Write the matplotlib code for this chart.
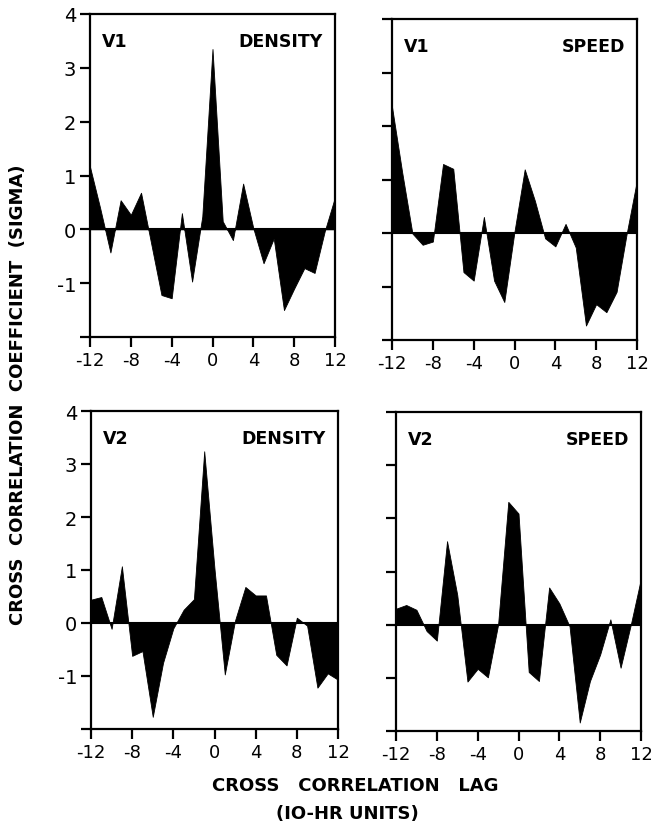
import matplotlib
matplotlib.use("Agg")
import matplotlib.pyplot as plt

plt.rcParams['font.family'] = ['DejaVu Sans']
plt.rcParams['axes.unicode_minus'] = False

lags = list(range(-12, 13))

v1_density = [1.16, 0.39, -0.43, 0.54, 0.27, 0.68, -0.27, -1.22, -1.28, 0.30,
              -0.97, 0.24, 3.35, 0.15, -0.20, 0.85, 0.02, -0.63, -0.17, -1.50,
              -1.10, -0.72, -0.81, -0.03, 0.60]
v1_speed = [2.36, 1.13, -0.01, -0.22, -0.16, 1.29, 1.20, -0.73, -0.89, 0.30,
            -0.89, -1.29, 0.03, 1.19, 0.60, -0.10, -0.25, 0.17, -0.27, -1.73,
            -1.33, -1.48, -1.10, 0.0, 0.99]
v2_density = [0.44, 0.49, -0.11, 1.07, -0.62, -0.53, -1.77, -0.75, -0.10, 0.25,
              0.45, 3.24, 1.02, -0.97, 0.05, 0.68, 0.52, 0.52, -0.60, -0.80,
              0.10, -0.05, -1.22, -0.95, -1.07]
v2_speed = [0.30, 0.37, 0.28, -0.12, -0.30, 1.57, 0.56, -1.07, -0.83, -0.99,
            0.0, 2.31, 2.09, -0.89, -1.06, 0.70, 0.40, -0.03, -1.84, -1.06,
            -0.56, 0.10, -0.81, 0.0, 0.87]

xticks = [-12, -8, -4, 0, 4, 8, 12]
xticklabels = ["-12", "-8", "-4", "0", "4", "8", "12"]
yticks = [-2, -1, 0, 1, 2, 3, 4]
yticklabels = ["", "-1", "0", "1", "2", "3", "4"]

panels = [
    ("V1", "DENSITY", v1_density, [90/651, 1-338/829, 245/651, 323/829], True),
    ("V1", "SPEED", v1_speed, [392/651, 1-341/829, 245/651, 321/829], False),
    ("V2", "DENSITY", v2_density, [91/651, 1-730/829, 247/651, 318/829], True),
    ("V2", "SPEED", v2_speed, [396/651, 1-732/829, 245/651, 319/829], False),
]

fig = plt.figure(figsize=(6.51, 8.29), dpi=100)

for left_lbl, right_lbl, vals, rect, show_y in panels:
    ax = fig.add_axes(rect)
    ax.fill_between(lags, vals, 0, color='black', linewidth=0.6, edgecolor='black')
    ax.axhline(0, color='black', linewidth=1.5)
    ax.set_xlim(-12, 12)
    ax.set_ylim(-2, 4)
    ax.set_xticks(xticks)
    ax.set_xticklabels(xticklabels, fontsize=13)
    ax.set_yticks(yticks)
    if show_y:
        ax.set_yticklabels(yticklabels, fontsize=14)
    else:
        ax.set_yticklabels([])
    ax.tick_params(direction='out', length=7, width=1.6, pad=3)
    for sp in ax.spines.values():
        sp.set_linewidth(1.6)
    ax.text(0.05, 0.915, left_lbl, transform=ax.transAxes, fontsize=12.5,
            fontweight='bold', ha='left', va='center')
    ax.text(0.95, 0.915, right_lbl, transform=ax.transAxes, fontsize=12.5,
            fontweight='bold', ha='right', va='center')

fig.text(18/651, 1-395/829, "CROSS  CORRELATION  COEFFICIENT  (SIGMA)",
         rotation=90, ha='center', va='center', fontsize=13, fontweight='bold')
fig.text(355/651, 1-786/829, "CROSS   CORRELATION   LAG",
         ha='center', va='center', fontsize=13, fontweight='bold')
fig.text(347/651, 1-814/829, "(IO-HR UNITS)",
         ha='center', va='center', fontsize=13, fontweight='bold')

fig.savefig("out.png", dpi=100)
